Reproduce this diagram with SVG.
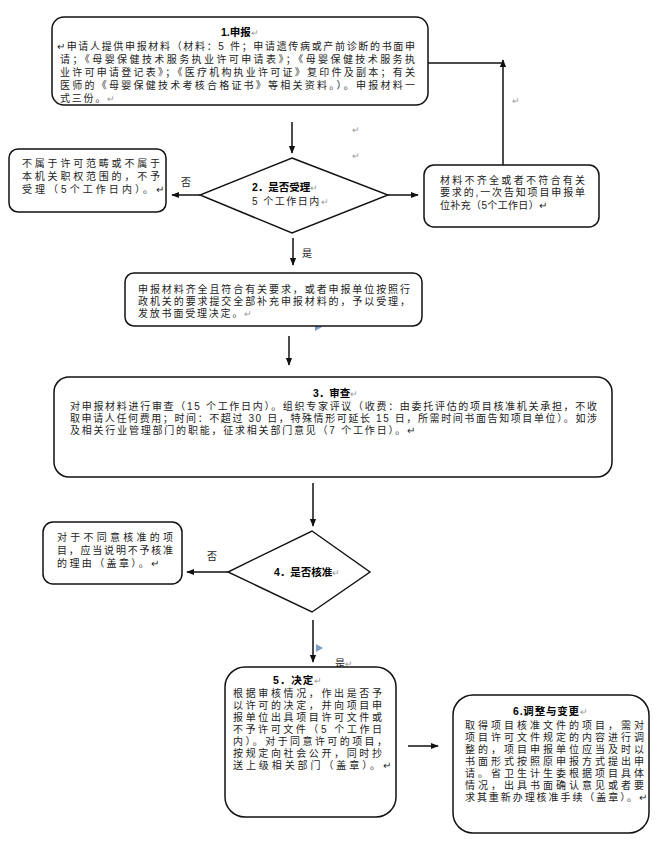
<svg xmlns="http://www.w3.org/2000/svg" width="662" height="848" viewBox="0 0 662 848">
<defs>
<style>
.box{fill:#fff;stroke:#111;stroke-width:1.5}
.dia{fill:#fff;stroke:#111;stroke-width:1.4}
.ln{stroke:#111;stroke-width:1.5;fill:none}
text{font-family:"Liberation Sans","Noto Sans CJK SC","Noto Sans CJK JP",sans-serif;font-size:10px;fill:#222}
.t{font-weight:bold;fill:#000;font-size:10.5px}
.pm{fill:#999;font-size:8.5px;font-weight:normal}
.lb{font-size:10px}
.anc{fill:#7a9cc6}
</style>
<marker id="ah" viewBox="0 0 10 10" refX="9" refY="5" markerWidth="8" markerHeight="8" markerUnits="userSpaceOnUse" orient="auto">
<path d="M0,1 L10,5 L0,9 z" fill="#111"/>
</marker>
</defs>
<rect width="662" height="848" fill="#fff"/>

<g id="connectors">
<line class="ln" x1="292" y1="122" x2="292" y2="153" marker-end="url(#ah)"/>
<line class="ln" x1="200" y1="195" x2="172" y2="195" marker-end="url(#ah)"/>
<text class="lb" x="181" y="186">否</text>
<line class="ln" x1="388" y1="195" x2="418" y2="195" marker-end="url(#ah)"/>
<line class="ln" x1="503" y1="165" x2="503" y2="60" marker-end="url(#ah)"/>
<line class="ln" x1="428" y1="63" x2="503" y2="63"/>
<line class="ln" x1="293" y1="238" x2="293" y2="265" marker-end="url(#ah)"/>
<text class="lb" x="302" y="257">是</text>
<line class="ln" x1="289" y1="336" x2="289" y2="365" marker-end="url(#ah)"/>
<line class="ln" x1="313" y1="483" x2="313" y2="526" marker-end="url(#ah)"/>
<line class="ln" x1="228" y1="572" x2="187" y2="572" marker-end="url(#ah)"/>
<text class="lb" x="207" y="560">否</text>
<line class="ln" x1="313" y1="620" x2="313" y2="662" marker-end="url(#ah)"/>
<text class="lb" x="335" y="667">是<tspan class="pm">↵</tspan></text>
<line class="ln" x1="408" y1="746" x2="438" y2="746" marker-end="url(#ah)"/>
<path class="anc" d="M315,323 L322,327 L315,331 z"/>
<path class="anc" d="M316,644 L323,648 L316,652 z"/>
<path class="anc" d="M295,746 L302,750 L295,754 z"/>
</g>

<g id="stray-marks">
<text class="pm" x="57" y="23">↵</text>
<text class="pm" x="352" y="133">↵</text>
<text class="pm" x="352" y="159">↵</text>
<text class="pm" x="352" y="210">↵</text>
<text class="pm" x="512" y="104">↵</text>
</g>

<g id="n1">
<rect class="box" x="52" y="17" width="376" height="88" rx="12"/>
<text><tspan class="t" x="221" y="36">1.申报</tspan><tspan class="pm">↵</tspan><tspan x="57" y="50" textLength="358" lengthAdjust="spacing">↵申请人提供申报材料（材料：5 件；申请遗传病或产前诊断的书面申</tspan><tspan x="60" y="63" textLength="355" lengthAdjust="spacing">请；《母婴保健技术服务执业许可申请表》；《母婴保健技术服务执</tspan><tspan x="60" y="76" textLength="355" lengthAdjust="spacing">业许可申请登记表》；《医疗机构执业许可证》复印件及副本；有关</tspan><tspan x="60" y="89" textLength="355" lengthAdjust="spacing">医师的《母婴保健技术考核合格证书》等相关资料。）。申报材料一</tspan><tspan x="60" y="102" letter-spacing="1.8">式三份。</tspan><tspan class="pm">↵</tspan></text>
</g>

<g id="n2">
<polygon class="dia" points="292,158 388,195 292,233 200,195"/>
<text><tspan class="t" x="252" y="191">2．是否受理</tspan><tspan class="pm">↵</tspan><tspan x="252" y="205" letter-spacing="1.5">5 个工作日内</tspan><tspan class="pm">↵</tspan></text>
</g>

<g id="n2no">
<rect class="box" x="9" y="149" width="157" height="63" rx="9"/>
<text><tspan x="22" y="167" textLength="138" lengthAdjust="spacing">不属于许可范畴或不属于</tspan><tspan x="22" y="180" textLength="138" lengthAdjust="spacing">本机关职权范围的，不予</tspan><tspan x="22" y="193" textLength="142" lengthAdjust="spacing">受理（5个工作日内）。↵</tspan></text>
</g>

<g id="n2sup">
<rect class="box" x="424" y="165" width="175" height="62" rx="10"/>
<text><tspan x="440" y="184" textLength="145" lengthAdjust="spacing">材料不齐全或者不符合有关</tspan><tspan x="440" y="196" textLength="145" lengthAdjust="spacing">要求的,一次告知项目申报单</tspan><tspan x="440" y="209" textLength="107" lengthAdjust="spacing">位补充（5个工作日）↵</tspan></text>
</g>

<g id="n2yes">
<rect class="box" x="125" y="273" width="297" height="53" rx="9"/>
<text><tspan x="138" y="293" textLength="272" lengthAdjust="spacing">申报材料齐全且符合有关要求，或者申报单位按照行</tspan><tspan x="138" y="305" textLength="272" lengthAdjust="spacing">政机关的要求提交全部补充申报材料的，予以受理，</tspan><tspan x="138" y="317" letter-spacing="1.8">发放书面受理决定。</tspan><tspan class="pm">↵</tspan></text>
</g>

<g id="n3">
<rect class="box" x="54" y="377" width="558" height="100" rx="15"/>
<text><tspan class="t" x="313" y="397">3．审查</tspan><tspan class="pm">↵</tspan><tspan x="70" y="410" textLength="527" lengthAdjust="spacing">对申报材料进行审查（15 个工作日内）。组织专家评议（收费：由委托评估的项目核准机关承担，不收</tspan><tspan x="70" y="422" textLength="527" lengthAdjust="spacing">取申请人任何费用；时间：不超过 30 日，特殊情形可延长 15 日，所需时间书面告知项目单位）。如涉</tspan><tspan x="70" y="434" textLength="345" lengthAdjust="spacing">及相关行业管理部门的职能，征求相关部门意见（7 个工作日）。↵</tspan></text>
</g>

<g id="n4">
<polygon class="dia" points="312,531 370,572 312,612 228,572"/>
<text><tspan class="t" x="274" y="576">4．是否核准</tspan><tspan class="pm">↵</tspan></text>
</g>

<g id="n4no">
<rect class="box" x="43" y="522" width="139" height="62" rx="10"/>
<text><tspan x="57" y="541" textLength="116" lengthAdjust="spacing">对于不同意核准的项</tspan><tspan x="57" y="554" textLength="116" lengthAdjust="spacing">目，应当说明不予核准</tspan><tspan x="57" y="567" textLength="102" lengthAdjust="spacing">的理由（盖章）。↵</tspan></text>
</g>

<g id="n5">
<rect class="box" x="225" y="667" width="171" height="150" rx="20"/>
<text><tspan class="t" x="273" y="684" letter-spacing="1">5．决定</tspan><tspan class="pm">↵</tspan><tspan x="233" y="697" textLength="149" lengthAdjust="spacing">根据审核情况，作出是否予</tspan><tspan x="233" y="709" textLength="149" lengthAdjust="spacing">以许可的决定，并向项目申</tspan><tspan x="233" y="721" textLength="149" lengthAdjust="spacing">报单位出具项目许可文件或</tspan><tspan x="233" y="733" textLength="149" lengthAdjust="spacing">不予许可文件（5 个工作日</tspan><tspan x="233" y="745" textLength="154" lengthAdjust="spacing">内）。对于同意许可的项目，</tspan><tspan x="233" y="757" textLength="149" lengthAdjust="spacing">按规定向社会公开，同时抄</tspan><tspan x="233" y="769" textLength="158" lengthAdjust="spacing">送上级相关部门（盖章）。↵</tspan></text>
</g>

<g id="n6">
<rect class="box" x="453" y="695" width="196" height="138" rx="20"/>
<text><tspan class="t" x="513" y="715" letter-spacing="0.8">6.调整与变更</tspan><tspan class="pm">↵</tspan><tspan x="465" y="729" textLength="179" lengthAdjust="spacing">取得项目核准文件的项目，需对</tspan><tspan x="465" y="741" textLength="179" lengthAdjust="spacing">项目许可文件规定的内容进行调</tspan><tspan x="465" y="753" textLength="179" lengthAdjust="spacing">整的，项目申报单位应当及时以</tspan><tspan x="465" y="765" textLength="179" lengthAdjust="spacing">书面形式按照原申报方式提出申</tspan><tspan x="465" y="777" textLength="179" lengthAdjust="spacing">请。省卫生计生委根据项目具体</tspan><tspan x="465" y="789" textLength="179" lengthAdjust="spacing">情况，出具书面确认意见或者要</tspan><tspan x="465" y="801" textLength="182" lengthAdjust="spacing">求其重新办理核准手续（盖章）。↵</tspan></text>
</g>
</svg>
